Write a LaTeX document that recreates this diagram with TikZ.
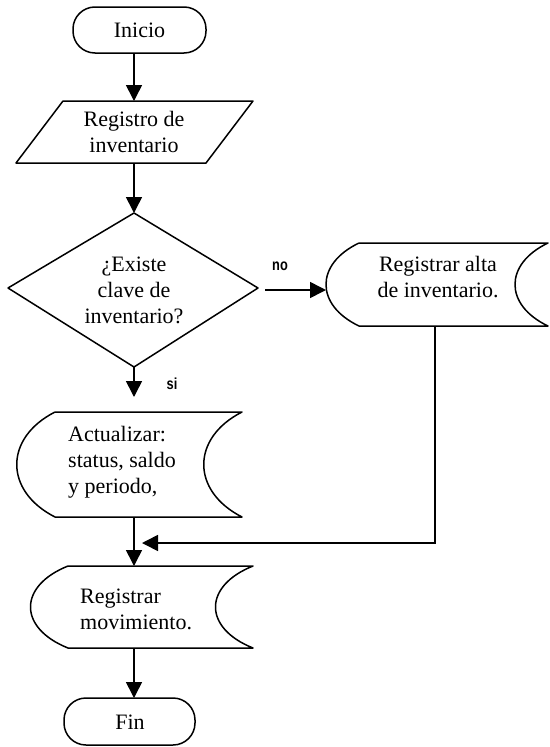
\documentclass[tikz,border=0pt]{standalone}
\usepackage{fontspec}
\setmainfont{Liberation Serif}
\newfontfamily\labelfont{Liberation Sans}
\usetikzlibrary{arrows.meta}
\begin{document}
\begin{tikzpicture}[x=1pt,y=-1pt,
  shp/.style={line width=1.5pt, line join=round},
  conn/.style={line width=1.6pt, -{Triangle[width=16pt,length=16pt]}},
  txt/.style={font=\fontsize{22}{26}\selectfont, align=center, inner sep=0pt},
  txtl/.style={txt, align=left, anchor=west},
  lbl/.style={font=\labelfont\bfseries\fontsize{16}{18}\selectfont, inner sep=0pt}]
\useasboundingbox[fill=white] (0,0) rectangle (549,747);

% Inicio
\draw[shp, rounded corners=22pt] (73,7) rectangle (206,53);
\node[txt] (inicio) at (139.5,30) {Inicio};
\coordinate (inicioS) at (134,53);

% Registro de inventario (parallelogram)
\draw[shp] (63,101) -- (253,101) -- (206,163) -- (16,163) -- cycle;
\node[txt] (registro) at (134,132) {Registro de\\inventario};
\coordinate (registroN) at (134,101);
\coordinate (registroS) at (134,163);

% Decision
\draw[shp] (134,213) -- (258,288) -- (134,367) -- (8,288) -- cycle;
\node[txt] (existe) at (134,290) {¿Existe\\clave de\\inventario?};
\coordinate (existeN) at (134,213);
\coordinate (existeS) at (134,367);
\coordinate (existeE) at (265,290);

% Registrar alta de inventario
\draw[shp] (359,243) -- (548,243) .. controls (504,264) and (504,305) .. (548,326)
  -- (359,326) .. controls (315,305) and (315,264) .. (359,243);
\node[txt] (alta) at (438,277) {Registrar alta\\de inventario.};
\coordinate (altaW) at (326,290);
\coordinate (altaS) at (435,326);
\coordinate (corner) at (435,543);
\coordinate (mergeE) at (142,543);

% Actualizar
\draw[shp] (55,412) -- (242,412) .. controls (191,438) and (191,491) .. (242,517)
  -- (55,517) .. controls (4,491) and (4,438) .. (55,412);
\node[txtl] (actualizar) at (68,462) {Actualizar:\\status, saldo\\y periodo,};
\coordinate (actualizarN) at (134,397);
\coordinate (actualizarS) at (134,517);

% Registrar movimiento
\draw[shp] (68,566) -- (253,566) .. controls (203,586) and (203,628) .. (253,648)
  -- (68,648) .. controls (18,628) and (18,586) .. (68,566);
\node[txtl] (mov) at (80,609) {Registrar\\movimiento.};
\coordinate (movN) at (134,566);
\coordinate (movS) at (134,648);

% Fin
\draw[shp, rounded corners=22pt] (64,698) rectangle (195,745);
\node[txt] (fin) at (130,722) {Fin};
\coordinate (finN) at (134,698);

% Connectors
\draw[conn] (inicioS) -- (registroN);
\draw[conn] (registroS) -- (existeN);
\draw[conn] (existeS) -- (actualizarN);
\draw[conn] (existeE) -- (altaW);
\draw[conn] (actualizarS) -- (movN);
\draw[conn] (movS) -- (finN);
\draw[conn] (altaS) -- (corner) -- (mergeE);

% Labels
\node[lbl] (no) at (280,266) {\scalebox{0.8}[1]{no}};
\node[lbl] (si) at (172,384) {\scalebox{0.8}[1]{si}};
\end{tikzpicture}
\end{document}
